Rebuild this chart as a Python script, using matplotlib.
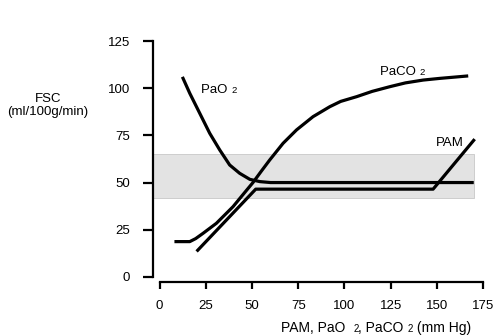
import matplotlib

matplotlib.use("Agg")
import matplotlib.pyplot as plt
import numpy as np

plt.rcParams["font.family"] = ["Liberation Sans", "DejaVu Sans"]

# curves (mm Hg -> ml/100g/min)
pao2_x = [12.3, 16.3, 21.7, 27.1, 32.5, 37.9, 43.3, 48.8, 54.2, 60, 100, 170]
pao2_y = [106, 97.3, 86.7, 76.1, 67.3, 59.3, 54.9, 51.7, 50.5, 50, 50, 50]

paco2_x = [8, 16.3, 19.5, 23.5, 30.7, 39.7, 45, 50.5, 55, 59.6, 66.8, 74.1, 83,
           92.1, 98, 106.6, 115, 124.6, 133, 142.6, 151.7, 160, 167]
paco2_y = [18.7, 18.7, 20.3, 23.1, 28.4, 37.2, 43.5, 50, 56, 62, 70.8, 77.9, 84.9,
           90.2, 93, 95.5, 98.3, 100.8, 102.8, 104.3, 105.2, 105.9, 106.5]

pam_x = [20, 52, 148, 170.5]
pam_y = [13.5, 46.5, 46.5, 73]

band_low, band_high, band_end = 42, 65, 170

FS = 9.5
SUB = 6.8


def pieces(ax, x, y, parts, transform):
    """Draw text parts side by side; small parts stand for the '2' of O2/CO2."""
    renderer = ax.figure.canvas.get_renderer()
    offset = 0.0
    for text, size in parts:
        ax.annotate(text, xy=(x, y), xycoords=transform, xytext=(offset, 0),
                    textcoords="offset points", fontsize=size, va="baseline",
                    ha="left", annotation_clip=False)
        t = ax.figure.text(0, 0, text, fontsize=size)
        offset += t.get_window_extent(renderer).width * 72 / ax.figure.dpi
        t.remove()


fig = plt.figure(figsize=(4.96, 3.36), dpi=100)
ax = fig.add_axes([153 / 496, 1 - 282 / 336, (483 - 153) / 496, (282 - 41) / 336])

ax.fill_between([-3.6, band_end], band_low, band_high, facecolor="#e3e3e3",
                edgecolor="#c8c8c8", linewidth=0.6, zorder=1)

for xs, ys in [(pao2_x, pao2_y), (paco2_x, paco2_y), (pam_x, pam_y)]:
    ax.plot(xs, ys, color="black", linewidth=2.3, solid_capstyle="butt",
            solid_joinstyle="round", zorder=3)

ax.set_xlim(-3.6, 175)
ax.set_ylim(-2.7, 125)
for side in ["top", "right"]:
    ax.spines[side].set_visible(False)
ax.spines["left"].set_bounds(0, 125)
ax.spines["bottom"].set_bounds(0, 175)
for side in ["left", "bottom"]:
    ax.spines[side].set_linewidth(1.6)

ax.set_xticks(np.arange(0, 176, 25))
ax.set_yticks(np.arange(0, 126, 25))
ax.tick_params(axis="y", length=7, width=1.6, labelsize=FS, pad=9.5)
ax.tick_params(axis="x", length=5, width=1.6, labelsize=FS, pad=8)

pieces(ax, 22.6, 97.6, [("PaO ", FS), ("2", SUB)], "data")
pieces(ax, 119.5, 107, [("PaCO ", FS), ("2", SUB)], "data")
pieces(ax, 149.5, 69.4, [("PAM", FS)], "data")

fig.text(48 / 496, 1 - 101.7 / 336, "FSC", fontsize=FS, ha="center", va="baseline")
fig.text(48 / 496, 1 - 115 / 336, "(ml/100g/min)", fontsize=FS, ha="center",
         va="baseline")

pieces(ax, 281 / 496, 1 - 332 / 336,
       [("PAM, PaO  ", 10), ("2", 7), (", PaCO ", 10), ("2", 7), (" (mm Hg)", 10)],
       "figure fraction")

fig.savefig("out.png", dpi=100)
